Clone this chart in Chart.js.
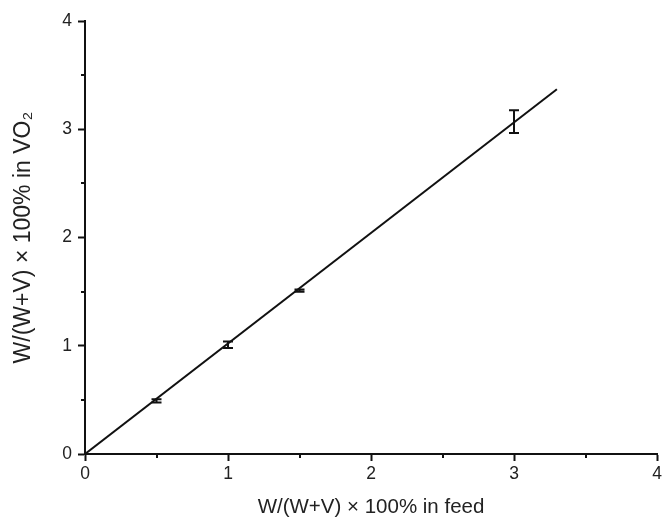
<!DOCTYPE html>
<html>
<head>
<meta charset="utf-8">
<script src="https://cdn.jsdelivr.net/npm/chart.js@4.4.0/dist/chart.umd.min.js"></script>
<style>
  html, body { margin: 0; padding: 0; background: #fff; }
  #wrap { width: 669px; height: 522px; }
</style>
</head>
<body>
<div id="wrap"><canvas id="c" width="669" height="522"></canvas></div>
<script>
// Measured data (x: content in feed, y: content in VO2), with error half-widths
const xValues = [0.5, 1, 1.5, 3];
const yValues = [0.49, 1.01, 1.51, 3.07];
const yErrors = [0.015, 0.03, 0.01, 0.105];
// Linear fit line endpoints
const fitX = [0, 3.3];
const fitY = [0, 3.37];
// Axis ticks
const xTicks = [0, 1, 2, 3, 4];
const yTicks = [0, 1, 2, 3, 4];
const xMinorTicks = [0.5, 1.5, 2.5, 3.5];
const yMinorTicks = [0.5, 1.5, 2.5, 3.5];

const FONT = "'Liberation Sans', Arial, sans-serif";

const errorBarPlugin = {
  id: 'errorBars',
  afterDatasetsDraw(chart) {
    const xs = chart.scales.x, ys = chart.scales.y;
    const ctx = chart.ctx;
    ctx.save();
    ctx.strokeStyle = '#111';
    ctx.lineWidth = 2;
    for (let i = 0; i < xValues.length; i++) {
      const px = xs.getPixelForValue(xValues[i]);
      const top = ys.getPixelForValue(yValues[i] + yErrors[i]);
      const bot = ys.getPixelForValue(yValues[i] - yErrors[i]);
      const cap = 5;
      ctx.beginPath();
      ctx.moveTo(px, top); ctx.lineTo(px, bot);
      ctx.moveTo(px - cap, top); ctx.lineTo(px + cap, top);
      ctx.moveTo(px - cap, bot); ctx.lineTo(px + cap, bot);
      ctx.stroke();
    }
    ctx.restore();
  },
  afterDraw(chart) {
    // minor ticks
    const xs = chart.scales.x, ys = chart.scales.y;
    const ctx = chart.ctx;
    const area = chart.chartArea;
    ctx.save();
    ctx.strokeStyle = '#111';
    ctx.lineWidth = 2;
    ctx.beginPath();
    xMinorTicks.forEach(v => {
      const p = Math.round(xs.getPixelForValue(v));
      ctx.moveTo(p, area.bottom); ctx.lineTo(p, area.bottom + 4);
    });
    yMinorTicks.forEach(v => {
      const p = Math.round(ys.getPixelForValue(v));
      ctx.moveTo(area.left, p); ctx.lineTo(area.left - 4, p);
    });
    ctx.stroke();
    ctx.restore();
  }
};

new Chart(document.getElementById('c'), {
  type: 'scatter',
  data: {
    datasets: [
      {
        label: 'fit',
        data: fitX.map((x, i) => ({ x, y: fitY[i] })),
        showLine: true,
        borderColor: '#111',
        borderWidth: 2,
        pointRadius: 0,
        fill: false
      },
      {
        label: 'data',
        data: xValues.map((x, i) => ({ x, y: yValues[i] })),
        pointRadius: 0,
        showLine: false
      }
    ]
  },
  options: {
    responsive: false,
    animation: false,
    devicePixelRatio: 1,
    layout: { padding: { top: 21, right: 12, bottom: 0, left: 0 } },
    plugins: { legend: { display: false }, tooltip: { enabled: false } },
    scales: {
      x: {
        type: 'linear',
        min: 0, max: 4,
        afterBuildTicks(s) { s.ticks = xTicks.map(v => ({ value: v })); },
        afterFit(s) { s.height = 68; },
        border: { display: true, color: '#111', width: 2 },
        grid: { drawOnChartArea: false, drawTicks: true, tickLength: 7, tickWidth: 2, tickColor: '#111' },
        ticks: { font: { family: FONT, size: 17.5 }, color: '#222', padding: 3, maxRotation: 0 },
        title: {
          display: true,
          text: 'W/(W+V) × 100% in feed',
          font: { family: FONT, size: 20.5 },
          color: '#222',
          padding: { top: 0, bottom: 2 }
        }
      },
      y: {
        type: 'linear',
        min: 0, max: 4,
        afterBuildTicks(s) { s.ticks = yTicks.map(v => ({ value: v })); },
        afterFit(s) { s.width = 85; },
        border: { display: true, color: '#111', width: 2 },
        grid: { drawOnChartArea: false, drawTicks: true, tickLength: 7, tickWidth: 2, tickColor: '#111' },
        ticks: { font: { family: FONT, size: 17.5 }, color: '#222', padding: 6 },
        title: {
          display: true,
          text: 'W/(W+V) × 100% in VO₂',
          font: { family: FONT, size: 23 },
          color: '#222',
          padding: { top: 10, bottom: 0 }
        }
      }
    }
  },
  plugins: [errorBarPlugin]
});
</script>
</body>
</html>
